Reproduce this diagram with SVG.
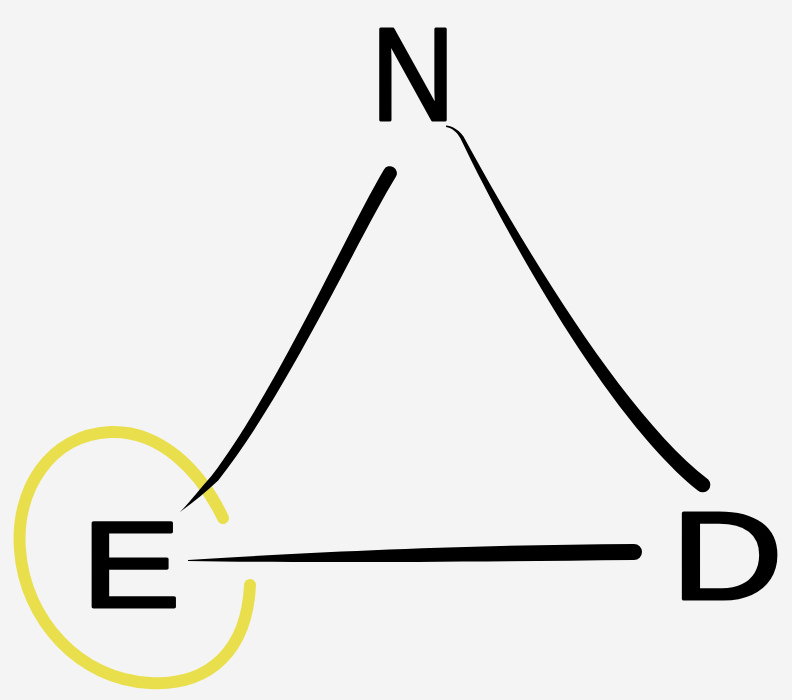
<svg xmlns="http://www.w3.org/2000/svg" width="792" height="700" viewBox="0 0 792 700">
<style>
.lbl{font-family:"Liberation Sans",Arial,sans-serif;fill:#000;stroke:#000;stroke-width:3;stroke-linejoin:round;text-anchor:middle}
.edge{fill:#000}
.hl{fill:none;stroke:#e9df4c;stroke-width:12;stroke-linecap:round}
</style>
<rect width="792" height="700" fill="#f4f4f4"/>
<g id="highlight">
<path class="hl" d="M223,518 C200,470 160,430 110,432 C50,435 15,490 20,550 C25,620 80,680 150,683 C210,686 247,650 250,585"/>
</g>
<g id="connectors">
<path class="edge" d="M396,176.6 C357.5,239.4 287.3,393.4 218.2,480.4 C205,493 192,503 180,512 C190,502 200,489 211.8,475.6 C278.7,386.6 346.5,232.6 384,169.4 A7,7 0 0 1 396,176.6 Z"/>
<path class="edge" d="M446,125.5 C451,125.5 458,129 463.5,136.5 C524,247.5 625,415.4 708.2,479.6 A7.5,7.5 0 0 1 697.8,490.4 C614.8,424.6 515,252.5 460.5,138.5 C457,132 452,128 446,127 Z"/>
<path class="edge" d="M188,560 C300,553 450,545 634,544 A8,8 0 0 1 634,560 C450,562 300,563 188,561 Z"/>
</g>
<g id="node-N">
<text class="lbl" font-size="132" transform="translate(413,120) scale(0.88,1)">N</text>
</g>
<g id="node-E">
<text class="lbl" font-size="122" transform="translate(131,607) scale(1.22,1)">E</text>
</g>
<g id="node-D">
<text class="lbl" font-size="124" transform="translate(727,599) scale(1.25,1)">D</text>
</g>
</svg>
